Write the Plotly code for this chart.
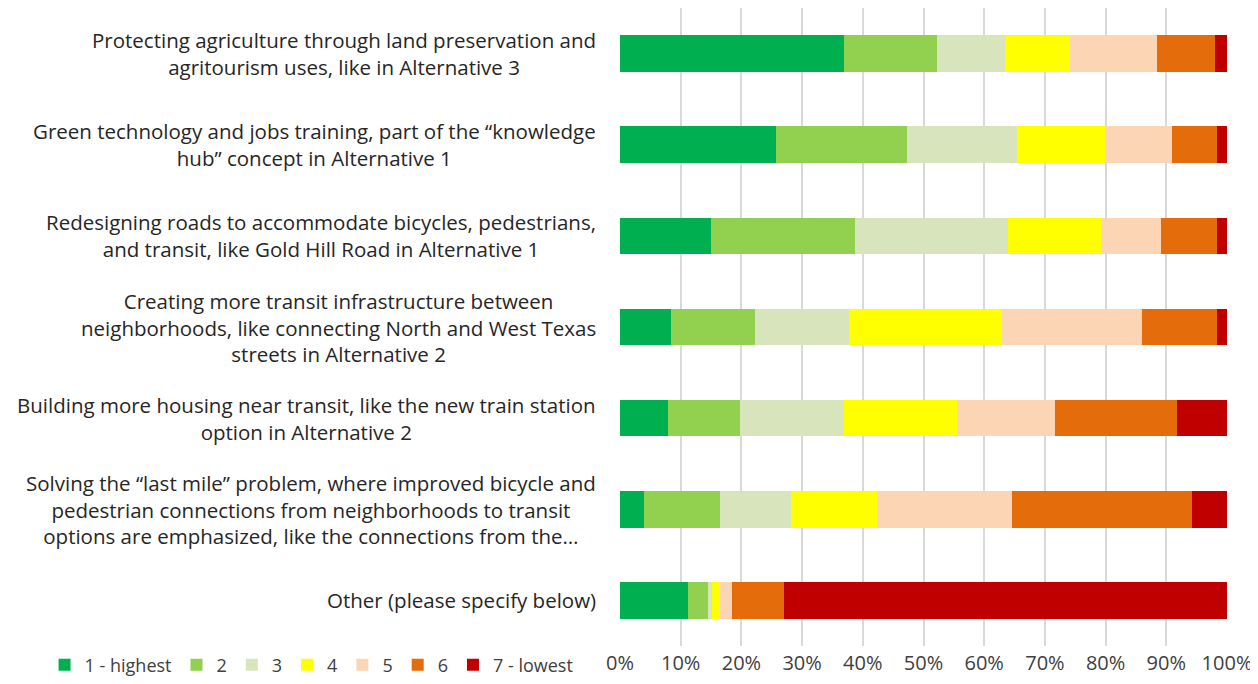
import plotly.graph_objects as go

# survey items, top to bottom
items = [
    "Protecting agriculture through land preservation and<br>agritourism uses, like in Alternative 3",
    "Green technology and jobs training, part of the “knowledge<br>hub” concept in Alternative 1",
    "Redesigning roads to accommodate bicycles, pedestrians,<br>and transit, like Gold Hill Road in Alternative 1",
    "Creating more transit infrastructure between<br>neighborhoods, like connecting North and West Texas<br>streets in Alternative 2",
    "Building more housing near transit, like the new train station<br>option in Alternative 2",
    "Solving the “last mile” problem, where improved bicycle and<br>pedestrian connections from neighborhoods to transit<br>options are emphasized, like the connections from the…",
    "Other (please specify below)",
]

# share of respondents (%) for each rank
rank1 = [36.9, 25.7, 15.0, 8.4, 7.9, 4.0, 11.2]
rank2 = [15.3, 21.7, 23.7, 13.8, 11.8, 12.5, 3.3]
rank3 = [11.3, 18.1, 25.3, 15.5, 17.2, 11.6, 0.7]
rank4 = [10.6, 14.4, 15.2, 25.3, 18.6, 14.2, 1.3]
rank5 = [14.3, 11.2, 10.0, 23.0, 16.2, 22.2, 2.0]
rank6 = [9.6, 7.4, 9.2, 12.4, 20.1, 29.7, 8.5]
rank7 = [2.0, 1.6, 1.6, 1.6, 8.2, 5.8, 73.0]

rank_names = ["1 - highest", "2", "3", "4", "5", "6", "7 - lowest"]
colors = ["#00B050", "#92D050", "#D8E4BC", "#FFFF00", "#FCD5B4", "#E46C0A", "#C00000"]

fig = go.Figure()
for name, vals, col in zip(rank_names, [rank1, rank2, rank3, rank4, rank5, rank6, rank7], colors):
    fig.add_trace(go.Bar(
        y=items, x=vals, name=name, orientation="h",
        marker=dict(color=col, line=dict(width=0)),
    ))

# centered multi-line category labels, right edge next to the axis
for it in items:
    fig.add_annotation(
        x=-0.036, xref="paper", y=it, yref="y",
        text=it, showarrow=False, xanchor="right", yanchor="middle",
        align="center", font=dict(family="Open Sans", size=20.5, color="#262626"),
    )

# page body adds an 8px offset, so the figure is a bit smaller
fig.update_layout(
    barmode="stack",
    barnorm="percent",
    bargap=0.6,
    width=1250, height=676,
    margin=dict(l=612, r=31, t=0, b=38),
    plot_bgcolor="white", paper_bgcolor="white",
    font=dict(family="Open Sans", color="#404040"),
    legend=dict(
        orientation="h", x=-0.948, xanchor="left", y=-0.03, yanchor="middle",
        font=dict(size=18, color="#404040"), itemwidth=30, traceorder="normal",
    ),
)
fig.update_xaxes(
    range=[0, 100], dtick=10, ticksuffix="%", automargin=False,
    showgrid=True, gridcolor="#D9D9D9", gridwidth=1.5,
    zeroline=False, tickfont=dict(size=20, color="#404040"), ticklabelstandoff=3,
)
fig.update_yaxes(autorange="reversed", showticklabels=False, showgrid=False, automargin=False)

fig.write_html("out.html")
